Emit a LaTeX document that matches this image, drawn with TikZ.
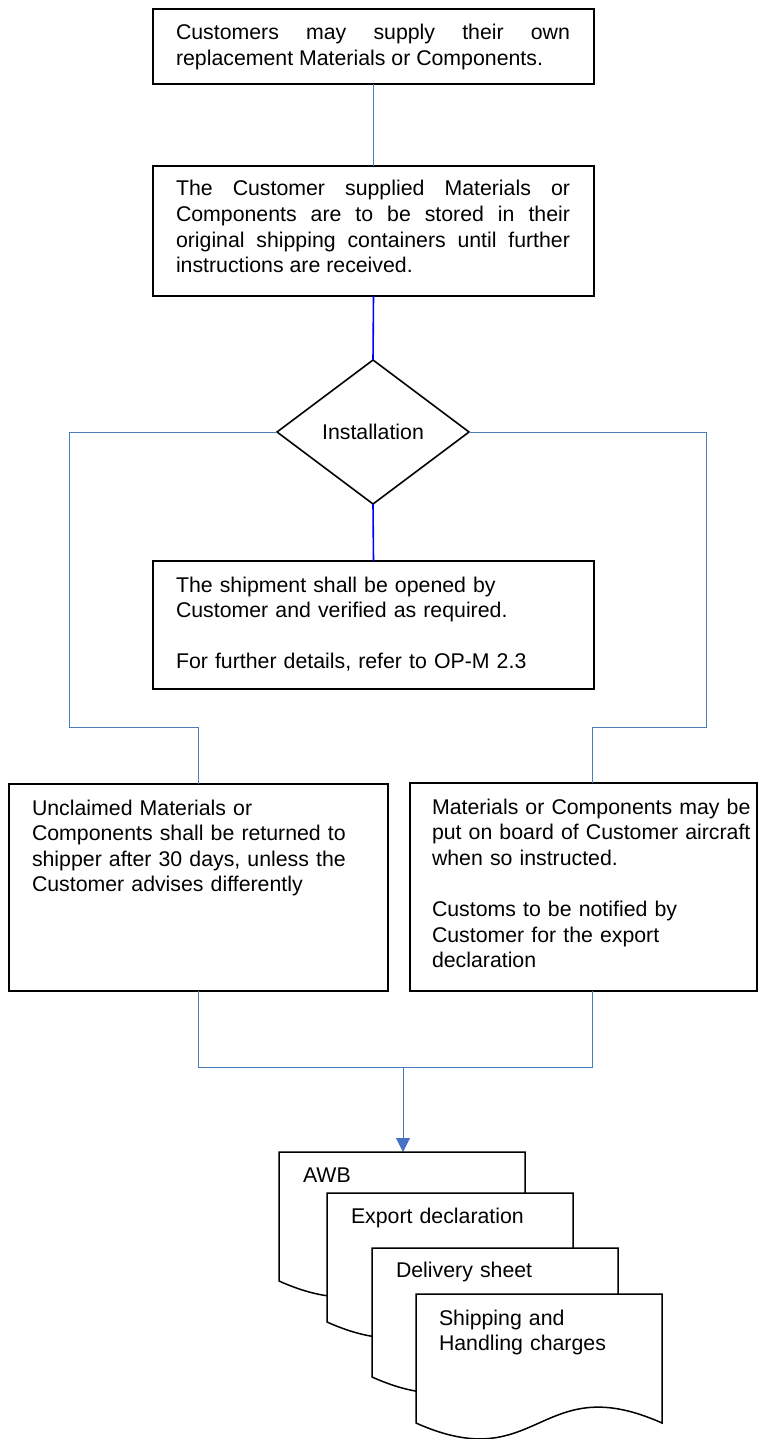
\documentclass[tikz,border=0pt]{standalone}
\usepackage{fontspec}
\setmainfont{Liberation Sans}
\usetikzlibrary{shapes.geometric,arrows.meta}
\definecolor{linkblue}{HTML}{4A7EBB}
\definecolor{flowblue}{HTML}{0000FF}
\definecolor{tipblue}{HTML}{4472C4}
\newcommand\flowtextfont{\fontsize{21.3}{25.6}\selectfont}

\begin{document}
\begin{tikzpicture}[x=1pt,y=-1pt,
  every node/.style={inner sep=0pt, outer sep=0pt},
  procbox/.style={draw=black, line width=1.8pt, fill=white, rectangle},
  decision/.style={draw=black, line width=1.6pt, fill=white, diamond,
    minimum width=192pt, minimum height=144pt, font=\flowtextfont},
  plaintext/.style={anchor=base west, font=\flowtextfont, text width=#1, align=left},
  justtext/.style={anchor=base west, font=\flowtextfont, text width=#1, align=justify},
  rail/.style={draw=linkblue, line width=1pt},
  stem/.style={draw=linkblue, line width=1.6pt},
  mainflow/.style={draw=flowblue, line width=1.6pt},
  feed/.style={draw=tipblue, line width=1pt, -{Triangle[width=14pt,length=14pt]}},
  pics/sheet/.style={code={
    \draw[line width=1.5pt, fill=white] (0,0) -- (246,0) -- (246,129)
      .. controls (123,74) and (123,184) .. (0,129) -- cycle;}}
]
\useasboundingbox (0,0) rectangle (765,1439);

% process boxes
\node[procbox, minimum width=441pt, minimum height=75pt]  (b1) at (373.5,46.5) {};
\node[procbox, minimum width=441pt, minimum height=130pt] (b2) at (373.5,231) {};
\node[decision] (dia) at (373,432) {Installation};
\node[procbox, minimum width=441pt, minimum height=128pt] (b5) at (373.5,625) {};
\node[procbox, minimum width=379pt, minimum height=207pt] (b3) at (198.5,887.5) {};
\node[procbox, minimum width=347pt, minimum height=208pt] (b4) at (583.5,887) {};

% box texts
\node[justtext=394pt] (t1) at (176,39.5)
  {Customers may supply their own\linebreak replacement Materials or Components.};
\node[justtext=394pt] (t2) at (176,196)
  {The Customer supplied Materials or\linebreak Components are to be stored in their\linebreak
   original shipping containers until further\linebreak instructions are received.};
\node[plaintext=400pt] (t5) at (176,592)
  {The shipment shall be opened by\\Customer and verified as required.\\[25.6pt]For further details, refer to OP-M 2.3};
\node[plaintext=350pt] (t3) at (32,815)
  {Unclaimed Materials or\\Components shall be returned to\\shipper after 30 days, unless the\\Customer advises differently};
\node[plaintext=320pt] (t4) at (432,814)
  {Materials or Components may be\\put on board of Customer aircraft\\when so instructed.\\[25.6pt]Customs to be notified by\\Customer for the export\\declaration};

% connectors
\draw[stem] (b1.south) -- (b2.north);
\draw[mainflow] (b2.south) -- (dia.north);
\draw[mainflow] (dia.south) -- (b5.north);

\coordinate (lrail) at (69,727);
\coordinate (rrail) at (706,727);
\coordinate (rjoin) at (592,727);
\draw[rail] (dia.west) -| (lrail) -| (b3.north);
\draw[rail] (dia.east) -| (rrail) -- (rjoin) -- (rjoin |- b4.north);

\coordinate (bjoin) at (592,1067);
\coordinate (tap) at (403,1067);
\coordinate (d1top) at (403,1152);
\draw[rail] (b3.south) |- (bjoin) -- (bjoin |- b4.south);
\draw[feed] (tap) -- (d1top);

% document stack
\pic at (279,1152) {sheet};
\node[plaintext=200pt] (awb) at (303,1182) {AWB};
\pic at (327,1193) {sheet};
\node[plaintext=200pt] (exp) at (351,1223) {Export declaration};
\pic at (372,1248) {sheet};
\node[plaintext=200pt] (del) at (396,1277) {Delivery sheet};
\pic at (416,1294) {sheet};
\node[plaintext=210pt] (shp) at (439,1325) {Shipping and\\Handling charges};
\end{tikzpicture}
\end{document}
